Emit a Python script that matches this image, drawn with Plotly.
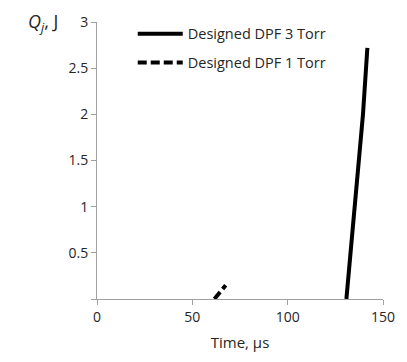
import plotly.graph_objects as go

# Data
t_3torr = [130.8, 133.5, 136.5, 139.5, 141.8]
q_3torr = [0.0, 0.62, 1.3, 2.0, 2.72]
t_1torr = [61.6, 64.5, 67.5]
q_1torr = [0.0, 0.07, 0.15]

yticks = [0, 0.5, 1, 1.5, 2, 2.5, 3]
ytick_text = ["", "0.5", "1", "1.5", "2", "2.5", "3"]
xticks = [0, 50, 100, 150]

font_family = "Open Sans, Liberation Sans, sans-serif"
text_color = "#262626"

fig = go.Figure()
fig.add_trace(go.Scatter(x=t_3torr, y=q_3torr, mode="lines",
                         name="Designed DPF 3 Torr", legendgroup="a",
                         line=dict(color="black", width=4)))
fig.add_trace(go.Scatter(x=t_1torr, y=q_1torr, mode="lines",
                         name="Designed DPF 1 Torr", legendgroup="b",
                         line=dict(color="black", width=4, dash="9px,4px")))

axis_color = "#a0a0a0"
fig.update_layout(
    width=407, height=362,
    margin=dict(l=97, r=16, t=15, b=63),
    plot_bgcolor="white", paper_bgcolor="white",
    font=dict(family=font_family, size=14, color=text_color),
    showlegend=True,
    legend=dict(x=0.125, y=1.015, xanchor="left", yanchor="top",
                bgcolor="rgba(0,0,0,0)", font=dict(size=14.5),
                traceorder="grouped", tracegroupgap=7, itemwidth=45),
    xaxis=dict(range=[0, 150], tickvals=xticks, showgrid=False,
               showline=True, linecolor=axis_color, linewidth=1,
               ticks="outside", ticklen=5, tickcolor=axis_color,
               zeroline=False, tickfont=dict(size=14),
               title=dict(text="Time, μs", standoff=12,
                          font=dict(size=15))),
    yaxis=dict(range=[0, 3], tickvals=yticks, ticktext=ytick_text,
               showgrid=False, showline=True, linecolor=axis_color,
               linewidth=1, ticks="outside", ticklen=5,
               tickcolor=axis_color, zeroline=False,
               tickfont=dict(size=14)),
    annotations=[dict(text="<i>Q<sub>j</sub></i>, J", xref="paper",
                      yref="paper", x=-0.25, y=1.0, xanchor="left",
                      yanchor="middle", showarrow=False,
                      font=dict(size=18, color=text_color))],
)

fig.write_html("out.html")
